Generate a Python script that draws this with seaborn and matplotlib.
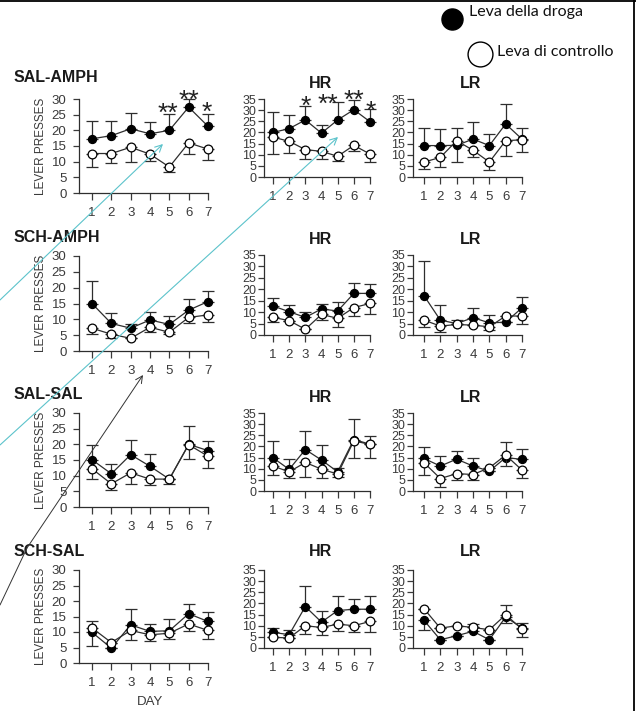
import matplotlib
matplotlib.use("Agg")
import matplotlib.pyplot as plt
import numpy as np
import seaborn as sns

# ---- data ---------------------------------------------------------------
days = [1, 2, 3, 4, 5, 6, 7]
groups = ["SAL-AMPH", "SCH-AMPH", "SAL-SAL", "SCH-SAL"]
subgroups = ["HR", "LR"]
legend_labels = ["Leva della droga", "Leva di controllo"]

# error values are signed: positive = bar drawn upward, negative = downward
sal_amph_drug = [17.3, 18.3, 20.5, 18.9, 20.0, 27.4, 21.3]
sal_amph_drug_err = [5.8, 4.6, 5.0, 3.9, 5.3, 2.6, 3.9]
sal_amph_ctrl = [12.6, 12.6, 14.6, 12.4, 8.3, 16.0, 14.0]
sal_amph_ctrl_err = [-4.3, -3.1, -4.8, -2.1, -1.7, -3.4, -3.4]

sal_amph_hr_drug = [20.0, 21.7, 25.6, 19.7, 25.6, 30.2, 24.8]
sal_amph_hr_drug_err = [9.0, 6.0, 6.4, 3.8, 7.9, 4.2, 5.8]
sal_amph_hr_ctrl = [17.9, 16.0, 12.3, 11.5, 9.3, 14.2, 10.3]
sal_amph_hr_ctrl_err = [-7.6, -5.2, -4.1, -3.4, -2.0, -2.5, -3.6]

sal_amph_lr_drug = [14.1, 14.1, 14.2, 17.0, 14.1, 23.8, 17.0]
sal_amph_lr_drug_err = [7.9, 7.6, -7.6, 7.5, 5.2, 8.9, 5.0]
sal_amph_lr_ctrl = [6.7, 8.8, 16.3, 12.0, 6.7, 16.3, 16.7]
sal_amph_lr_ctrl_err = [-3.0, -4.3, 5.7, -3.2, -3.7, -6.7, -5.7]

sch_amph_drug = [15.0, 8.7, 7.2, 9.8, 8.4, 12.9, 15.6]
sch_amph_drug_err = [7.2, 3.4, 1.2, 2.4, 2.6, 3.4, 3.3]
sch_amph_ctrl = [7.2, 5.3, 4.0, 7.5, 5.9, 10.6, 11.4]
sch_amph_ctrl_err = [-1.9, -1.3, 0, -1.4, -0.6, -1.9, -2.2]

sch_amph_hr_drug = [12.7, 10.2, 7.7, 11.4, 10.5, 18.2, 18.2]
sch_amph_hr_drug_err = [3.6, 2.9, 2.5, 2.2, 4.1, 4.4, 4.1]
sch_amph_hr_ctrl = [7.7, 6.3, 2.5, 9.0, 7.3, 12.0, 13.8]
sch_amph_hr_ctrl_err = [-1.9, 0, 0, -2.4, -3.9, -3.7, -4.6]

sch_amph_lr_drug = [17.2, 6.5, 5.0, 7.6, 5.3, 5.6, 11.9]
sch_amph_lr_drug_err = [15.3, 6.5, 1.5, 4.0, 3.3, 0, 4.9]
sch_amph_lr_ctrl = [6.5, 3.9, 4.6, 4.3, 3.6, 8.3, 8.3]
sch_amph_lr_ctrl_err = [-3.1, -2.7, 0, 0, -1.2, 0, -3.7]

sal_sal_drug = [15.1, 10.6, 16.7, 13.0, 8.9, 20.0, 18.0]
sal_sal_drug_err = [4.6, 3.2, 4.8, 3.9, 0, 5.7, 3.0]
sal_sal_ctrl = [12.2, 7.4, 10.9, 8.9, 8.9, 19.9, 16.2]
sal_sal_ctrl_err = [-3.3, -1.9, -3.6, -1.8, -1.6, -4.6, -3.8]

sal_sal_hr_drug = [14.9, 9.7, 18.6, 13.9, 8.6, 23.1, 21.0]
sal_sal_hr_drug_err = [7.6, 4.5, 8.4, 6.7, 1.8, 9.4, 3.6]
sal_sal_hr_ctrl = [11.2, 8.6, 12.8, 9.8, 7.6, 22.5, 20.9]
sal_sal_hr_ctrl_err = [-4.0, -2.9, -6.7, -3.8, -1.5, -7.6, -6.0]

sal_sal_lr_drug = [14.6, 11.2, 14.3, 11.2, 8.9, 15.0, 14.2]
sal_sal_lr_drug_err = [5.0, 4.6, 3.8, 3.4, 0, 6.9, 4.7]
sal_sal_lr_ctrl = [12.7, 5.6, 7.8, 7.4, 10.4, 16.1, 9.4]
sal_sal_lr_ctrl_err = [-5.3, -3.8, -2.7, -2.3, 0, -4.9, -3.4]

sch_sal_drug = [9.9, 4.8, 12.3, 10.2, 10.4, 15.9, 13.4]
sch_sal_drug_err = [-4.3, 0, 5.1, 2.3, 3.7, 3.2, 3.2]
sch_sal_ctrl = [11.3, 6.6, 10.5, 9.1, 9.6, 12.6, 10.5]
sch_sal_ctrl_err = [2.1, 0, -3.0, -2.1, -1.9, -2.4, -2.8]

sch_sal_hr_drug = [7.0, 6.0, 18.6, 11.6, 16.8, 17.4, 17.4]
sch_sal_hr_drug_err = [1.9, 2.2, 9.3, 5.2, 6.6, 4.5, 6.0]
sch_sal_hr_ctrl = [4.8, 4.5, 10.0, 9.2, 10.7, 10.0, 11.9]
sch_sal_hr_ctrl_err = [0, 0, -3.6, -3.2, -3.2, -3.0, -4.9]

sch_sal_lr_drug = [12.4, 3.7, 5.5, 7.5, 3.7, 13.9, 9.0]
sch_sal_lr_drug_err = [-4.5, 0, 0, 3.4, 0, -2.7, 2.2]
sch_sal_lr_ctrl = [17.6, 8.9, 10.0, 9.2, 8.2, 14.9, 8.5]
sch_sal_lr_ctrl_err = [0, 0, 0, 0, 0, 4.2, -3.6]

# significance marks: (day, height, label)
sal_amph_stars = [(4.93, 27.8, "**"), (6.0, 31.9, "**"), (6.95, 28.1, "*")]
sal_amph_hr_stars = [(3.0, 35.0, "*"), (4.4, 36.3, "**"), (6.0, 37.7, "**"), (7.05, 33.0, "*")]

panels = [
    [(sal_amph_drug, sal_amph_drug_err, sal_amph_ctrl, sal_amph_ctrl_err, sal_amph_stars),
     (sal_amph_hr_drug, sal_amph_hr_drug_err, sal_amph_hr_ctrl, sal_amph_hr_ctrl_err, sal_amph_hr_stars),
     (sal_amph_lr_drug, sal_amph_lr_drug_err, sal_amph_lr_ctrl, sal_amph_lr_ctrl_err, [])],
    [(sch_amph_drug, sch_amph_drug_err, sch_amph_ctrl, sch_amph_ctrl_err, []),
     (sch_amph_hr_drug, sch_amph_hr_drug_err, sch_amph_hr_ctrl, sch_amph_hr_ctrl_err, []),
     (sch_amph_lr_drug, sch_amph_lr_drug_err, sch_amph_lr_ctrl, sch_amph_lr_ctrl_err, [])],
    [(sal_sal_drug, sal_sal_drug_err, sal_sal_ctrl, sal_sal_ctrl_err, []),
     (sal_sal_hr_drug, sal_sal_hr_drug_err, sal_sal_hr_ctrl, sal_sal_hr_ctrl_err, []),
     (sal_sal_lr_drug, sal_sal_lr_drug_err, sal_sal_lr_ctrl, sal_sal_lr_ctrl_err, [])],
    [(sch_sal_drug, sch_sal_drug_err, sch_sal_ctrl, sch_sal_ctrl_err, []),
     (sch_sal_hr_drug, sch_sal_hr_drug_err, sch_sal_hr_ctrl, sch_sal_hr_ctrl_err, []),
     (sch_sal_lr_drug, sch_sal_lr_drug_err, sch_sal_lr_ctrl, sch_sal_lr_ctrl_err, [])],
]

# ---- layout (pixels of the 636x711 figure) ------------------------------
W, H = 636, 711
# spine x, day-1 x, day-7 x, right edge x
col_geom = [(79, 92, 208, 215), (264, 273, 370, 377), (413, 424, 522, 529)]
# y of value 0, y of top value
row_geom_main = [(193, 99), (351, 256), (507, 413), (663, 570)]
row_geom_sub = [(177, 99), (335, 255), (491, 413), (648, 570)]
title_y_main = [78, 237, 395, 551]
title_y_sub = [83, 240, 397, 552]

LINE = "#2e2e2e"
TICK = "#3a3a3a"

sns.set_style("ticks")
plt.rcParams["font.family"] = ["Liberation Sans", "DejaVu Sans"]

fig = plt.figure(figsize=(W / 100, H / 100), dpi=100)


def draw_series(ax, vals, err, face, z):
    vals = np.asarray(vals, dtype=float)
    err = np.asarray(err, dtype=float)
    lower = np.where(err < 0, -err, 0)
    upper = np.where(err > 0, err, 0)
    eb = ax.errorbar(days, vals, yerr=[lower, upper], fmt="none", ecolor=LINE,
                     elinewidth=0.9, capsize=4, capthick=0.9, zorder=z - 1)
    for art in list(eb.lines[1]) + list(eb.lines[2]):
        art.set_clip_on(False)
    sns.lineplot(x=days, y=vals, ax=ax, color=LINE, lw=0.9, marker="o",
                 ms=6.3 if face == "white" else 5.8, mfc=face, mec="black",
                 mew=0.9, zorder=z, clip_on=False, errorbar=None)


for r in range(4):
    for c in range(3):
        xs, x1, x7, xr = col_geom[c]
        y0, yt = row_geom_main[r] if c == 0 else row_geom_sub[r]
        ymax = 30 if c == 0 else 35
        ax = fig.add_axes([xs / W, 1 - y0 / H, (xr - xs) / W, (y0 - yt) / H])
        ax.patch.set_alpha(0)
        ppd = (x7 - x1) / 6
        lo = 1 - (x1 - xs) / ppd
        hi = 7 + (xr - x7) / ppd
        ax.set_xlim(lo, hi)
        ax.set_ylim(0, ymax)

        drug, drug_err, ctrl, ctrl_err, stars = panels[r][c]
        draw_series(ax, drug, drug_err, "black", 3)
        draw_series(ax, ctrl, ctrl_err, "white", 5)

        for d, y, s in stars:
            ax.annotate(s, xy=(d, y), xytext=(0, -11), textcoords="offset points",
                        ha="center", va="baseline", fontsize=19, color="#222222",
                        annotation_clip=False)

        sns.despine(ax=ax)
        ax.spines["bottom"].set_bounds(lo, 7)
        ax.spines["left"].set_bounds(0, ymax)
        for sp in ("left", "bottom"):
            ax.spines[sp].set_color(LINE)
            ax.spines[sp].set_linewidth(0.9)
        ax.set_xticks(days)
        ax.set_yticks(range(0, ymax + 1, 5))
        ax.tick_params(axis="x", length=5, width=0.9, pad=5, labelsize=9.5,
                       colors=TICK)
        ax.tick_params(axis="y", length=4, width=0.9,
                       pad=5 if c == 0 else 1.5,
                       labelsize=9.5 if c == 0 else 9, colors=TICK)
        ax.set_xlabel("")
        ax.set_ylabel("")

        if c == 0:
            ax.set_ylabel("LEVER PRESSES", fontsize=8.5, color=TICK)
            ax.yaxis.set_label_coords(-(xs - 47) / (xr - xs), 0.5)
            ax.text((14 - xs) / (xr - xs), (y0 - title_y_main[r]) / (y0 - yt),
                    groups[r], transform=ax.transAxes, ha="left", va="center",
                    fontsize=11.5, fontweight="bold", color="#1a1a1a")
            if r == 3:
                ax.set_xlabel("DAY", fontsize=9.5, color=TICK)
                ax.xaxis.label.set_va("center")
                ax.xaxis.set_label_coords(0.52, -(702 - y0) / (y0 - yt))
        else:
            ax.text(0.5, (y0 - title_y_sub[r]) / (y0 - yt), subgroups[c - 1],
                    transform=ax.transAxes, ha="center", va="center",
                    fontsize=11.5, fontweight="bold", color="#1a1a1a")

# ---- overlay: legend, hand-drawn arrows, frame ---------------------------
ov = fig.add_axes([0, 0, 1, 1], zorder=10)
ov.set_xlim(0, W)
ov.set_ylim(H, 0)
ov.axis("off")
ov.patch.set_alpha(0)

ov.scatter([452], [19], s=230, color="black", zorder=3)
ov.scatter([480], [54], s=320, facecolor="white", edgecolor="black", lw=1.0, zorder=3)
ov.text(469, 12, legend_labels[0], fontsize=11.5, family=["Lato", "DejaVu Sans"],
        ha="left", va="center", color="#111111")
ov.text(497, 52, legend_labels[1], fontsize=11.5, family=["Lato", "DejaVu Sans"],
        ha="left", va="center", color="#111111")

cyan = "#5cc3cb"
arrow_kw = dict(arrowstyle="->,head_length=0.5,head_width=0.25", lw=0.8,
                shrinkA=0, shrinkB=0)
ov.annotate("", xy=(163, 144), xytext=(0, 300),
            arrowprops=dict(color=cyan, **arrow_kw))
ov.annotate("", xy=(338, 137), xytext=(0, 445),
            arrowprops=dict(color=cyan, **arrow_kw))
ov.plot([0, 27], [605, 548], color="#333333", lw=0.7)
ov.annotate("", xy=(143, 375), xytext=(27, 548),
            arrowprops=dict(color="#333333", **dict(arrow_kw, lw=0.7)))

ov.plot([0, W], [1, 1], color="black", lw=1.3, clip_on=False)
ov.plot([634, 634], [0, H], color="black", lw=1.3, clip_on=False)

fig.savefig("out.png", dpi=100)
